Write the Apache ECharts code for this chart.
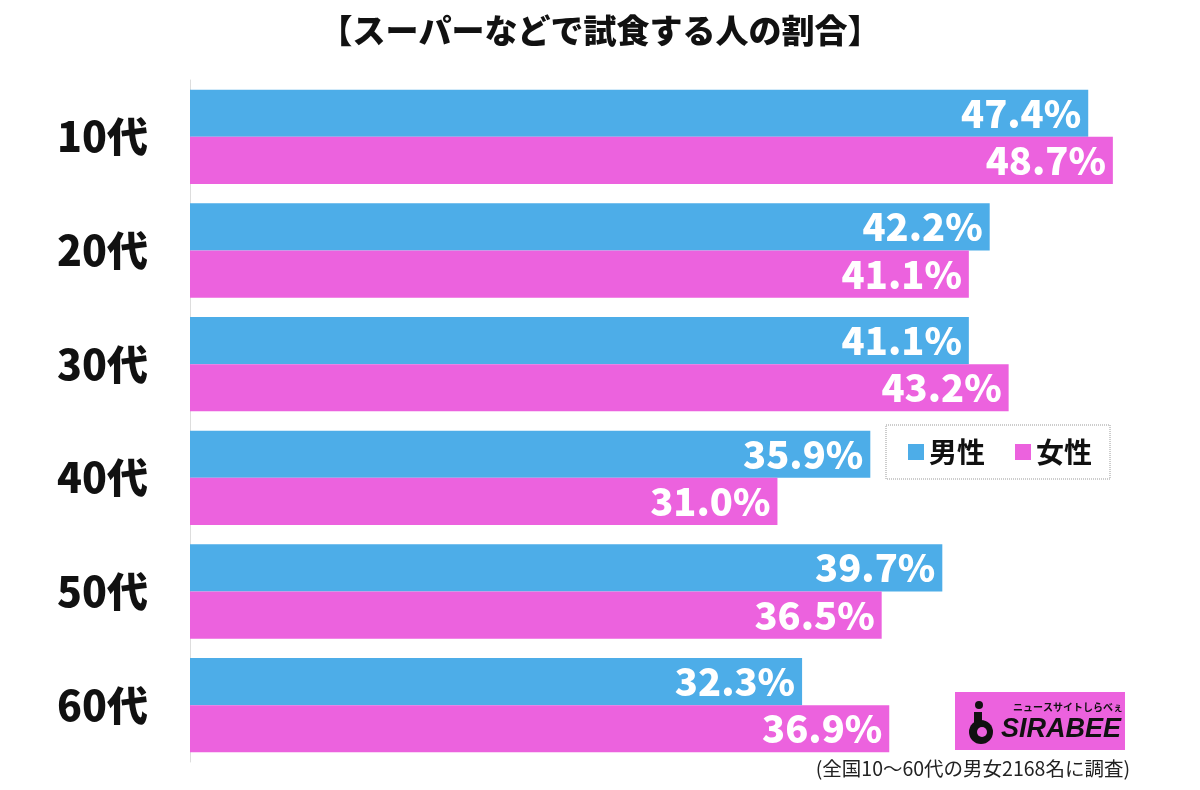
<!DOCTYPE html>
<html>
<head>
<meta charset="utf-8">
<script src="https://cdn.jsdelivr.net/npm/echarts@6/dist/echarts.min.js"></script>
<style>html,body{margin:0;padding:0;background:#fff;}#c{width:1200px;height:790px;}</style>
</head>
<body>
<div id="c"></div>
<script>
const categories = ['10代', '20代', '30代', '40代', '50代', '60代'];
const maleValues = [47.4, 42.2, 41.1, 35.9, 39.7, 32.3];
const femaleValues = [48.7, 41.1, 43.2, 31.0, 36.5, 36.9];
const seriesNames = ['男性', '女性'];
const titleText = '【スーパーなどで試食する人の割合】';
const noteText = '(全国10〜60代の男女2168名に調査)';

const FONT = '"Noto Sans CJK JP", "Noto Sans", sans-serif';
const BLUE = '#4DADE8';
const PINK = '#EC62DE';

const chart = echarts.init(document.getElementById('c'));
const labelCfg = {
  show: true,
  position: 'insideRight',
  distance: 7,
  color: '#fff',
  fontFamily: FONT,
  fontWeight: 900,
  fontSize: 38,
  formatter: p => p.value.toFixed(1) + '%'
};
chart.setOption({
  backgroundColor: '#fff',
  animation: false,
  title: {
    text: titleText,
    left: 'center',
    top: 9,
    textStyle: { fontFamily: FONT, fontWeight: 900, fontSize: 33, color: '#111' }
  },
  legend: {
    data: seriesNames,
    left: 886,
    top: 425,
    width: 226,
    padding: [13, 18, 13, 22],
    itemWidth: 16,
    itemHeight: 16,
    itemGap: 30,
    icon: 'rect',
    borderColor: '#999',
    borderWidth: 1,
    borderType: 'dotted',
    textStyle: { fontFamily: FONT, fontWeight: 'bold', fontSize: 28, color: '#111' }
  },
  grid: { left: 190, right: 62.5, top: 80, bottom: 28, containLabel: false },
  xAxis: {
    type: 'value',
    min: 0,
    max: 50,
    show: false
  },
  yAxis: {
    type: 'category',
    data: categories,
    inverse: true,
    axisLine: { show: true, lineStyle: { color: '#ddd', width: 1 } },
    axisTick: { show: false },
    axisLabel: {
      margin: 42,
      color: '#111',
      fontFamily: FONT,
      fontWeight: 900,
      fontSize: 41
    }
  },
  series: [
    {
      name: seriesNames[0], type: 'bar', data: maleValues,
      itemStyle: { color: BLUE }, barGap: '0%', barCategoryGap: '17%',
      label: labelCfg
    },
    {
      name: seriesNames[1], type: 'bar', data: femaleValues,
      itemStyle: { color: PINK }, barGap: '0%', barCategoryGap: '17%',
      label: labelCfg
    }
  ],
  graphic: [
    {
      type: 'text', right: 70, top: 759,
      style: { text: noteText, fontFamily: FONT, fontSize: 19.5, fill: '#222' }
    },
    {
      type: 'group', left: 955, top: 692,
      children: [
        { type: 'rect', shape: { x: 0, y: 0, width: 170, height: 58 }, style: { fill: PINK } },
        { type: 'circle', shape: { cx: 24, cy: 13, r: 4 }, style: { fill: '#111' } },
        { type: 'rect', shape: { x: 19, y: 20, width: 8, height: 16 }, style: { fill: '#111' } },
        { type: 'circle', shape: { cx: 26, cy: 40, r: 12 }, style: { fill: '#111' } },
        { type: 'circle', shape: { cx: 27, cy: 40, r: 5 }, style: { fill: PINK } },
        { type: 'text', x: 58, y: 10, style: { text: 'ニュースサイトしらべぇ', fontFamily: FONT, fontSize: 10, fontWeight: 'bold', fill: '#111' } },
        { type: 'text', x: 46, y: 24, style: { text: 'SIRABEE', fontFamily: '"Liberation Sans", Arial, sans-serif', fontSize: 27, fontWeight: 'bold', fontStyle: 'italic', fill: '#111' } }
      ]
    }
  ]
});
</script>
</body>
</html>
